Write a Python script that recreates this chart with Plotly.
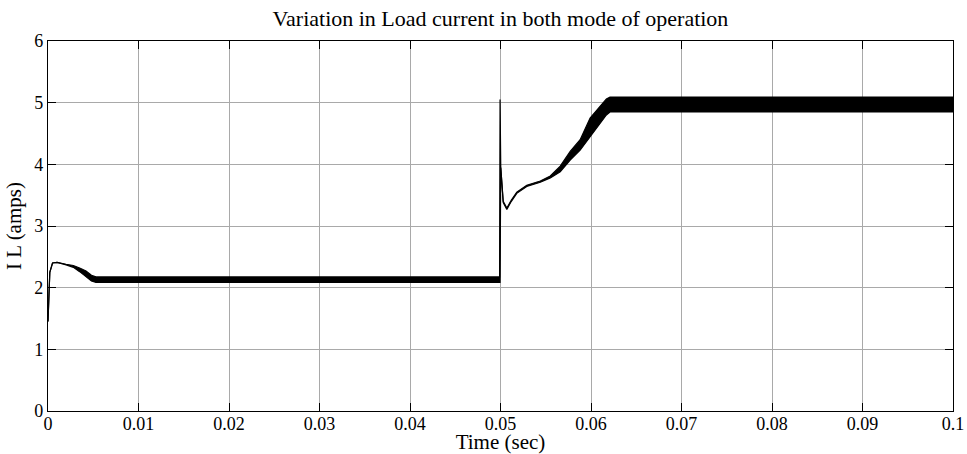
import plotly.graph_objects as go

# ---- data (envelope of the load-current waveform) ----
time_s = [0.0, 0.0002, 0.0005, 0.001, 0.002, 0.0028, 0.0035, 0.0042, 0.0048, 0.0053,
          0.0499, 0.04995, 0.05003, 0.0503, 0.0507, 0.0512, 0.0518, 0.0529, 0.0544,
          0.0555, 0.0566, 0.0577, 0.0588, 0.0599, 0.061, 0.0617, 0.0621, 0.1]
current_upper = [1.45, 2.25, 2.40, 2.41, 2.38, 2.36, 2.32, 2.27, 2.20, 2.175,
                 2.175, 5.05, 3.95, 3.40, 3.29, 3.42, 3.55, 3.66, 3.73,
                 3.81, 3.97, 4.21, 4.40, 4.75, 4.94, 5.06, 5.09, 5.09]
current_lower = [1.45, 2.25, 2.40, 2.41, 2.37, 2.33, 2.26, 2.18, 2.11, 2.085,
                 2.085, 2.085, 3.95, 3.38, 3.27, 3.40, 3.53, 3.64, 3.71,
                 3.78, 3.88, 4.07, 4.23, 4.45, 4.66, 4.80, 4.85, 4.85]

x_ticks = [0, 0.01, 0.02, 0.03, 0.04, 0.05, 0.06, 0.07, 0.08, 0.09, 0.1]
x_tick_labels = ["0", "0.01", "0.02", "0.03", "0.04", "0.05", "0.06", "0.07", "0.08", "0.09", "0.1"]
y_ticks = [0, 1, 2, 3, 4, 5, 6]
y_tick_labels = ["0", "1", "2", "3", "4", "5", "6"]

title_text = "Variation in Load current in both mode of operation"
x_title = "Time (sec)"
y_title = "I L (amps)"

FONT = "Liberation Serif, Times New Roman, serif"

fig = go.Figure()
fig.add_trace(go.Scatter(x=time_s, y=current_upper, mode="lines",
                         line=dict(color="black", width=1.2), showlegend=False,
                         hoverinfo="skip"))
fig.add_trace(go.Scatter(x=time_s, y=current_lower, mode="lines",
                         line=dict(color="black", width=1.2), fill="tonexty",
                         fillcolor="black", showlegend=False, hoverinfo="skip"))

axis_common = dict(
    showline=True, linecolor="black", linewidth=1.3, mirror="allticks",
    ticks="inside", ticklen=8, tickcolor="black", tickwidth=1,
    showgrid=True, gridcolor="#a9a9a9", gridwidth=1, automargin=False,
    zeroline=False, tickfont=dict(family=FONT, size=18, color="black"),
)

fig.update_layout(
    width=967, height=454,
    margin=dict(l=48, r=14, t=41, b=43),
    paper_bgcolor="white", plot_bgcolor="white",
    font=dict(family=FONT, color="black"),
    title=dict(text=title_text, x=0.5, xanchor="center", xref="paper",
               y=0.96, yanchor="middle", yref="container",
               font=dict(family=FONT, size=22, color="black")),
    xaxis=dict(range=[0, 0.1], tickvals=x_ticks, ticktext=x_tick_labels,
               ticklabelstandoff=-4,
               title=dict(text=x_title, standoff=8, font=dict(family=FONT, size=21)),
               **axis_common),
    yaxis=dict(range=[0, 6], tickvals=y_ticks, ticktext=y_tick_labels,
               title=dict(text=y_title, standoff=6, font=dict(family=FONT, size=21)),
               **axis_common),
)

# remove the browser's default 8px body margin so the figure fills the window
fig.write_html("out.html", config={"displayModeBar": False},
               post_script="document.body.style.margin='0';")
